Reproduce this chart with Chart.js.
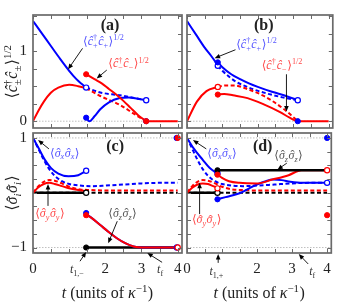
<!DOCTYPE html>
<html>
<head>
<meta charset="utf-8">
<script src="https://cdn.jsdelivr.net/npm/chart.js@4.4.0/dist/chart.umd.min.js"></script>
<style>
  html, body { margin: 0; padding: 0; background: #fff; width: 338px; height: 305px; overflow: hidden; }
  canvas { position: absolute; left: 0; top: 0; }
</style>
</head>
<body>
<canvas id="pa" width="338" height="305"></canvas>
<canvas id="pb" width="338" height="305"></canvas>
<canvas id="pc" width="338" height="305"></canvas>
<canvas id="pd" width="338" height="305"></canvas>
<script>
// jump times (units of 1/kappa)
const t1m = 1.47, t1p = 0.87, tf = 3.13;

// panel (a): jump at t1,-
const aBluePre  = [[0,1.43],[0.25,1.25],[0.5,1.07],[0.75,0.89],[1.0,0.72],[1.2,0.6],[1.35,0.53],[1.47,0.48]];
const aBlueDash = [[1.47,0.48],[1.86,0.41],[2.4,0.37],[2.8,0.33],[3.13,0.30]];
const aBluePost = [[1.47,0.05],[1.56,0.0],[1.7,0.07],[1.86,0.17],[2.1,0.27],[2.4,0.33],[2.65,0.34],[2.9,0.32],[3.13,0.30]];
const aRedPre   = [[0,0],[0.15,0.15],[0.3,0.28],[0.5,0.41],[0.7,0.48],[1.0,0.52],[1.25,0.5],[1.47,0.47]];
const aRedDash  = [[1.47,0.47],[1.86,0.36],[2.41,0.23],[2.75,0.12],[2.96,0.05],[3.13,0]];
const aRedPost  = [[1.47,0.67],[1.7,0.6],[1.9,0.54],[2.1,0.46],[2.3,0.38],[2.5,0.29],[2.7,0.19],[2.9,0.09],[3.05,0.03],[3.13,0],[4,0]];

// panel (b): jump at t1,+
const bBluePre  = [[0,1.43],[0.25,1.24],[0.5,1.05],[0.7,0.92],[0.87,0.8]];
const bBlueDash = [[0.87,0.79],[1.0,0.72],[1.2,0.63],[1.4,0.56],[1.65,0.5],[1.9,0.45],[2.3,0.39],[2.7,0.34],[3.13,0.30]];
const bBluePost = [[0.87,0.84],[1.0,0.77],[1.25,0.67],[1.5,0.6],[1.75,0.54],[2.0,0.49],[2.4,0.42],[2.8,0.36],[3.13,0.30]];
const bRedPre   = [[0,0],[0.28,0.28],[0.55,0.43],[0.87,0.49]];
const bRedDash  = [[0.87,0.49],[1.1,0.51],[1.34,0.51],[1.7,0.46],[2.17,0.36],[2.72,0.18],[3.0,0.06],[3.13,0]];
const bRedPost  = [[0.87,0.38],[1.05,0.39],[1.3,0.37],[1.71,0.33],[2.17,0.24],[2.63,0.13],[2.9,0.05],[3.13,0],[4,0]];

// panels (c),(d): no-jump trajectories (dashed)
const noJumpXX = [[0,1],[0.15,0.8],[0.3,0.6],[0.45,0.43],[0.6,0.31],[0.8,0.21],[1.0,0.16],[1.3,0.13],[1.6,0.12],[2.0,0.13],[2.5,0.15],[3.0,0.17],[3.5,0.18],[4.0,0.18]];
const noJumpYY = [[0,0],[0.15,0.12],[0.3,0.2],[0.45,0.23],[0.6,0.22],[0.8,0.17],[1.0,0.11],[1.3,0.06],[1.6,0.05],[2.0,0.04],[3.0,0.04],[4.0,0.04]];
const noJumpZZ = [[0,0],[4,0]];

// panel (c)
const cXXPre  = [[0,1],[0.15,0.82],[0.33,0.6],[0.5,0.45],[0.7,0.35],[0.98,0.3],[1.25,0.32],[1.47,0.4]];
const cYYPre  = [[0,0],[0.15,0.1],[0.3,0.16],[0.45,0.18],[0.6,0.16],[0.8,0.12],[1.0,0.08],[1.25,0.05],[1.47,0.03]];
const cZZPre  = [[0,0],[1.47,0]];
const cXXPost = [[1.47,-0.39],[1.6,-0.45],[1.86,-0.59],[2.1,-0.72],[2.32,-0.83],[2.55,-0.92],[2.78,-0.98],[3.0,-1.0],[4,-1.0]];
const cYYPost = [[1.47,-0.41],[1.6,-0.45],[1.86,-0.59],[2.1,-0.72],[2.32,-0.83],[2.55,-0.92],[2.78,-0.98],[3.0,-1.0],[4,-1.0]];
const cZZPost = [[1.47,-1],[4,-1]];

// panel (d)
const dXXPre  = [[0,1],[0.2,0.8],[0.45,0.6],[0.65,0.45],[0.87,0.35]];
const dYYPre  = [[0,0],[0.15,0.09],[0.3,0.15],[0.45,0.17],[0.6,0.16],[0.75,0.12],[0.87,0.09]];
const dZZPre  = [[0,0],[0.87,0]];
const dXXPost = [[0.87,-0.12],[1.1,-0.08],[1.5,-0.01],[1.8,0.09],[2.0,0.15],[2.25,0.21],[2.45,0.24],[2.7,0.23],[2.95,0.2],[3.3,0.18],[4,0.18]];
const dYYPost = [[0.87,0.33],[1.0,0.27],[1.2,0.21],[1.5,0.18],[2.0,0.17],[2.44,0.24],[2.9,0.32],[3.27,0.41],[4,0.41]];
const dZZPost = [[0.87,0.41],[4,0.41]];

// tick labels
const xLabels  = {0: '0', 2: '2', 3: '3', 4: '4'};
const yLabelsA = {0: '0', 1: '1'};
const yLabelsC = {1: '1', '-1': '\u22121'};

const BLUE = '#0000ff', RED = '#ff0000', BLACK = '#000000';
const SERIF = '"Liberation Serif", "DejaVu Serif", serif';

function pts(a) { return a.map(p => ({x: p[0], y: p[1]})); }
function curve(a, color, dash, order, width) {
  return { data: pts(a), borderColor: color, borderWidth: width || 2, borderDash: dash ? [4, 2.5] : [],
           pointRadius: 0, cubicInterpolationMode: 'monotone', fill: false, order: order };
}
function marks(a, color, open) {
  return { data: pts(a), showLine: false, pointRadius: 2.6, pointBackgroundColor: open ? '#fff' : color,
           pointBorderColor: color, pointBorderWidth: open ? 1.2 : 1, order: 0 };
}

// rich (sub/superscript) text
function partFont(sz, it) { return (it ? 'italic ' : '') + sz + 'px ' + SERIF; }
function partWidth(ctx, p, sz) {
  if (p.t !== undefined) { ctx.font = partFont(sz, p.i); return ctx.measureText(p.t).width; }
  let w = 0;
  ctx.font = partFont(sz * 0.68, p.i);
  if (p.sup) w = Math.max(w, ctx.measureText(p.sup).width);
  if (p.sub) w = Math.max(w, ctx.measureText(p.sub).width);
  return w + 0.5;
}
function drawRich(ctx, parts, x, y, sz, color, align) {
  let total = 0;
  parts.forEach(p => total += partWidth(ctx, p, sz));
  let cx = align === 'center' ? x - total / 2 : x;
  ctx.fillStyle = color;
  ctx.textBaseline = 'alphabetic';
  parts.forEach(p => {
    const w = partWidth(ctx, p, sz);
    ctx.textAlign = 'left';
    if (p.t !== undefined) {
      ctx.font = partFont(sz, p.i);
      ctx.fillText(p.t, cx, y);
      if (p.hat) {
        ctx.textAlign = 'center';
        ctx.font = sz + 'px ' + SERIF;
        ctx.fillText('\u02C6', cx + w / 2 + sz * 0.08, y + sz * 0.05);
      }
    } else {
      ctx.font = partFont(sz * 0.68, p.i);
      if (p.sup) ctx.fillText(p.sup, cx, y - sz * 0.38);
      if (p.sub) ctx.fillText(p.sub, cx, y + sz * 0.24);
    }
    cx += w;
  });
}

const lblCp = [{t:'\u27E8'},{t:'\u0109',i:1},{sup:'\u2020',sub:'+'},{t:'\u0109',i:1},{sub:'+'},{t:'\u27E9'},{sup:'1/2'}];
const lblCm = [{t:'\u27E8'},{t:'\u0109',i:1},{sup:'\u2020',sub:'\u2212'},{t:'\u0109',i:1},{sub:'\u2212'},{t:'\u27E9'},{sup:'1/2'}];
const lblCpm = [{t:'\u27E8'},{t:'\u0109',i:1},{sup:'\u2020',sub:'\u00B1'},{t:'\u0109',i:1},{sub:'\u00B1'},{t:'\u27E9'},{sup:'1/2'}];
function lblS(k) { return [{t:'\u27E8'},{t:'\u03C3',i:1,hat:1},{sub:k,i:1},{t:'\u03C3',i:1,hat:1},{sub:k,i:1},{t:'\u27E9'}]; }
const lblT1m = [{t:'t',i:1},{sub:'1,\u2212'}];
const lblT1p = [{t:'t',i:1},{sub:'1,+'}];
const lblTf  = [{t:'t',i:1},{sub:'f'}];
const lblX   = [{t:'t',i:1},{t:' (units of '},{t:'\u03BA',i:1},{sup:'\u22121'},{t:')'}];

const TXT_B = '#5555ff', TXT_R = '#ff4a4a', TXT_K = '#555555';

const DECO = {
  pa: { tag: '(a)', tagAt: [2.13, 1.36], refs: [0], yTitle: lblCpm,
        texts: [ {p: lblCp, at: [1.385, 1.09], c: TXT_B}, {p: lblCm, at: [2.08, 0.77], c: TXT_R} ],
        arrows: [ [1.37, 1.04, 0.97, 0.74], [2.04, 0.73, 1.76, 0.61] ] },
  pb: { tag: '(b)', tagAt: [2.17, 1.36], refs: [0],
        texts: [ {p: lblCp, at: [1.39, 1.05], c: TXT_B}, {p: lblCm, at: [2.11, 0.75], c: TXT_R} ],
        arrows: [ [1.37, 1.02, 0.78, 0.9], [2.81, 0.67, 2.81, 0.14] ] },
  pc: { tag: '(c)', tagAt: [2.27, 0.84], refs: [1, -1], yTitle: lblS('i'), xTitle: true,
        texts: [ {p: lblS('x'), at: [0.47, 0.66], c: TXT_B}, {p: lblS('y'), at: [0.06, -0.44], c: TXT_R},
                 {p: lblS('z'), at: [2.08, -0.44], c: TXT_K}, {p: lblT1m, at: [1.02, -1.47], c: '#333'},
                 {p: lblTf, at: [3.43, -1.47], c: '#333'} ],
        arrows: [ [0.44, 0.8, 0.14, 0.96], [0.415, -0.24, 0.415, 0.16], [2.33, -0.52, 2.08, -0.92],
                  [1.3, -1.25, 1.47, -1.08], [3.57, -1.27, 3.16, -1.1] ] },
  pd: { tag: '(d)', tagAt: [2.16, 0.84], refs: [1, -1], xTitle: true,
        texts: [ {p: lblS('x'), at: [0.58, 0.66], c: TXT_B}, {p: lblS('z'), at: [2.49, 0.62], c: TXT_K},
                 {p: lblS('y'), at: [0.14, -0.56], c: TXT_R}, {p: lblT1p, at: [0.64, -1.5], c: '#333'},
                 {p: lblTf, at: [3.49, -1.5], c: '#333'} ],
        arrows: [ [0.55, 0.8, 0.17, 0.96], [2.85, 0.54, 2.58, 0.42], [0.36, -0.39, 0.36, 0.18],
                  [0.89, -1.28, 0.89, -1.12], [3.46, -1.3, 3.19, -1.12] ] }
};

function arrow(ctx, x1, y1, x2, y2) {
  const ang = Math.atan2(y2 - y1, x2 - x1), L = 5.5, W = 2.3;
  const c = Math.cos(ang), s = Math.sin(ang);
  ctx.beginPath(); ctx.moveTo(x1, y1); ctx.lineTo(x2 - L * 0.7 * c, y2 - L * 0.7 * s); ctx.stroke();
  ctx.beginPath(); ctx.moveTo(x2, y2);
  ctx.lineTo(x2 - L * c + W * s, y2 - L * s - W * c);
  ctx.lineTo(x2 - L * c - W * s, y2 - L * s + W * c);
  ctx.closePath(); ctx.fill();
}

const decoPlugin = {
  id: 'deco',
  beforeDatasetsDraw(chart) {
    const d = DECO[chart.canvas.id], a = chart.chartArea, y = chart.scales.y, ctx = chart.ctx;
    ctx.save();
    ctx.strokeStyle = '#b0b0b0'; ctx.lineWidth = 0.8; ctx.setLineDash([1.5, 1.5]);
    d.refs.forEach(v => {
      const py = y.getPixelForValue(v);
      ctx.beginPath(); ctx.moveTo(a.left, py); ctx.lineTo(a.right, py); ctx.stroke();
    });
    ctx.restore();
  },
  afterDatasetsDraw(chart) {
    const d = DECO[chart.canvas.id], a = chart.chartArea, ctx = chart.ctx;
    const x = chart.scales.x, y = chart.scales.y;
    ctx.save();
    // inner ticks on all four sides
    ctx.strokeStyle = '#6a6a6a'; ctx.lineWidth = 1;
    ctx.beginPath();
    x.ticks.forEach(t => {
      const px = Math.round(x.getPixelForValue(t.value)) + 0.5;
      ctx.moveTo(px, a.bottom); ctx.lineTo(px, a.bottom - 4);
      ctx.moveTo(px, a.top); ctx.lineTo(px, a.top + 4);
    });
    y.ticks.forEach(t => {
      const py = Math.round(y.getPixelForValue(t.value)) + 0.5;
      ctx.moveTo(a.left, py); ctx.lineTo(a.left + 4, py);
      ctx.moveTo(a.right, py); ctx.lineTo(a.right - 4, py);
    });
    ctx.stroke();
    // frame
    ctx.strokeStyle = '#6a6a6a'; ctx.lineWidth = 1.7;
    ctx.strokeRect(a.left, a.top, a.right - a.left, a.bottom - a.top);
    // panel tag
    ctx.fillStyle = '#222'; ctx.font = 'bold 16px ' + SERIF;
    ctx.textAlign = 'center'; ctx.textBaseline = 'middle';
    ctx.fillText(d.tag, x.getPixelForValue(d.tagAt[0]), y.getPixelForValue(d.tagAt[1]));
    // annotations
    d.texts.forEach(tx => drawRich(ctx, tx.p, x.getPixelForValue(tx.at[0]), y.getPixelForValue(tx.at[1]), 12, tx.c, 'left'));
    ctx.strokeStyle = '#000'; ctx.fillStyle = '#000'; ctx.lineWidth = 0.9;
    d.arrows.forEach(r => arrow(ctx, x.getPixelForValue(r[0]), y.getPixelForValue(r[1]),
                                     x.getPixelForValue(r[2]), y.getPixelForValue(r[3])));
    // axis titles
    if (d.xTitle) drawRich(ctx, lblX, (a.left + a.right) / 2, a.bottom + 45, 16, '#222', 'center');
    if (d.yTitle) {
      ctx.translate(a.left - 21, (a.top + a.bottom) / 2);
      ctx.rotate(-Math.PI / 2);
      drawRich(ctx, d.yTitle, 0, 5, 16, '#222', 'center');
    }
    ctx.restore();
  }
};

// pad: layout padding, yw: width of the y axis box, xh: height of the x axis box
function makePanel(id, datasets, pad, yw, xh, yRange, yLab, xLab) {
  return new Chart(document.getElementById(id), {
    type: 'line',
    data: { datasets: datasets },
    options: {
      responsive: false, animation: false, events: [],
      layout: { padding: pad },
      plugins: { legend: { display: false }, tooltip: { enabled: false } },
      scales: {
        x: {
          type: 'linear', min: 0, max: 4.12,
          afterFit: s => { s.height = xh; },
          grid: { display: false, drawTicks: false }, border: { display: false },
          ticks: { stepSize: 0.5, includeBounds: false, autoSkip: false, maxRotation: 0, padding: 7,
                   color: '#222', font: { family: SERIF, size: 15 },
                   callback: v => (xLab && xLab[v] !== undefined) ? xLab[v] : '' }
        },
        y: {
          type: 'linear', min: yRange[0], max: yRange[1],
          afterFit: s => { s.width = yw; },
          grid: { display: false, drawTicks: false }, border: { display: false },
          ticks: { stepSize: 0.25, includeBounds: false, autoSkip: false, padding: 6,
                   color: '#222', font: { family: SERIF, size: 15 },
                   callback: v => (yLab[v] !== undefined) ? yLab[v] : '' }
        }
      }
    },
    plugins: [decoPlugin]
  });
}

const yTop = [-0.097, 1.516], yBot = [-1.10, 1.09];

makePanel('pa', [
  marks([[t1m, 0.67], [tf, 0]], RED, false),
  marks([[t1m, 0.05], [tf, 0]], BLUE, false),
  marks([[t1m, 0.48], [tf, 0.30]], BLUE, true),
  curve(aRedPost, RED, false, 1), curve(aRedPre, RED, false, 1),
  curve(aBluePre, BLUE, false, 2), curve(aBluePost, BLUE, false, 2),
  curve(aRedDash, RED, true, 3), curve(aBlueDash, BLUE, true, 3)
], {left: 0, right: 156, top: 7, bottom: 177}, 33, 0, yTop, yLabelsA, null);

makePanel('pb', [
  marks([[t1p, 0.84], [tf, 0]], BLUE, false),
  marks([[t1p, 0.38]], RED, false),
  marks([[t1p, 0.79], [tf, 0.30]], BLUE, true),
  marks([[t1p, 0.49]], RED, true),
  curve(bRedPost, RED, false, 1), curve(bRedPre, RED, false, 1),
  curve(bBluePre, BLUE, false, 2), curve(bBluePost, BLUE, false, 2),
  curve(bRedDash, RED, true, 3), curve(bBlueDash, BLUE, true, 3)
], {left: 187, right: 3, top: 7, bottom: 177}, 0, 0, yTop, {}, null);

makePanel('pc', [
  marks([[4, 1], [t1m, -0.41]], RED, false),
  marks([[t1m, -1]], BLACK, false),
  marks([[t1m, -0.37], [3.97, 1]], BLUE, false),
  marks([[4, -1]], RED, true),
  marks([[t1m, 0.4], [3.98, -1]], BLUE, true),
  marks([[t1m, 0]], BLACK, true),
  curve(cYYPost, RED, false, 1), curve(cYYPre, RED, false, 1),
  curve(cXXPost, BLUE, false, 2), curve(cXXPre, BLUE, false, 2),
  curve(cZZPost, BLACK, false, 3, 2.4), curve(cZZPre, BLACK, false, 3, 2.4),
  curve(noJumpYY, RED, true, 4), curve(noJumpXX, BLUE, true, 4),
  curve(noJumpZZ, BLACK, true, 5, 2.2)
], {left: 0, right: 156, top: 133, bottom: 27}, 33, 25, yBot, yLabelsC, xLabels);

makePanel('pd', [
  marks([[4, 1]], BLUE, false),
  marks([[4, -0.41], [t1p, 0.33]], RED, false),
  marks([[t1p, 0.41]], BLACK, false),
  marks([[t1p, -0.12]], BLUE, false),
  marks([[4, 0.41], [t1p, 0.08]], RED, true),
  marks([[4, 0.18], [t1p, 0.35]], BLUE, true),
  marks([[t1p, 0]], BLACK, true),
  curve(dZZPost, BLACK, false, 1, 2.4),
  curve(dYYPost, RED, false, 2), curve(dYYPre, RED, false, 2),
  curve(dXXPost, BLUE, false, 3), curve(dXXPre, BLUE, false, 3),
  curve(dZZPre, BLACK, false, 4, 2.4),
  curve(noJumpYY, RED, true, 5), curve(noJumpXX, BLUE, true, 5),
  curve(noJumpZZ, BLACK, true, 6, 2.2)
], {left: 187, right: 3, top: 133, bottom: 27}, 0, 25, yBot, {}, xLabels);
</script>
</body>
</html>
